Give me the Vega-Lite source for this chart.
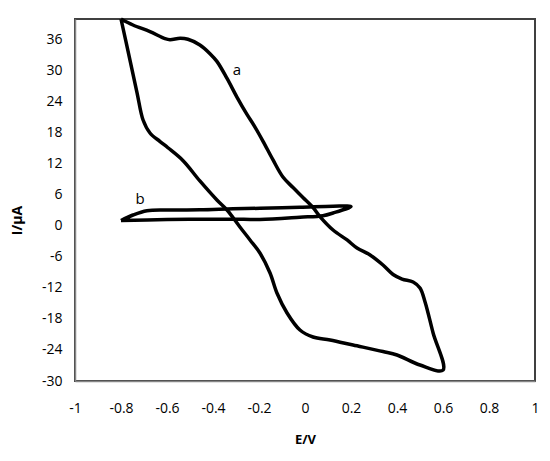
{
  "$schema": "https://vega.github.io/schema/vega-lite/v6.json",
  "width": 460,
  "height": 362,
  "autosize": {"type": "none"},
  "padding": {"left": 75, "top": 19, "right": 15, "bottom": 80},
  "background": "white",
  "config": {
    "font": "Open Sans",
    "view": {"stroke": "#404040", "strokeWidth": 2}
  },
  "datasets": {
    "curves": [
      {"s": "a", "i": 0, "E": -0.8, "I": 40.0},
      {"s": "a", "i": 1, "E": -0.748, "I": 38.84},
      {"s": "a", "i": 2, "E": -0.674, "I": 37.55},
      {"s": "a", "i": 3, "E": -0.609, "I": 36.2},
      {"s": "a", "i": 4, "E": -0.587, "I": 35.98},
      {"s": "a", "i": 5, "E": -0.543, "I": 36.27},
      {"s": "a", "i": 6, "E": -0.509, "I": 36.08},
      {"s": "a", "i": 7, "E": -0.457, "I": 34.98},
      {"s": "a", "i": 8, "E": -0.413, "I": 33.3},
      {"s": "a", "i": 9, "E": -0.383, "I": 31.8},
      {"s": "a", "i": 10, "E": -0.339, "I": 28.5},
      {"s": "a", "i": 11, "E": -0.296, "I": 24.9},
      {"s": "a", "i": 12, "E": -0.253, "I": 21.6},
      {"s": "a", "i": 13, "E": -0.22, "I": 19.3},
      {"s": "a", "i": 14, "E": -0.183, "I": 16.4},
      {"s": "a", "i": 15, "E": -0.139, "I": 12.74},
      {"s": "a", "i": 16, "E": -0.096, "I": 9.45},
      {"s": "a", "i": 17, "E": -0.052, "I": 7.4},
      {"s": "a", "i": 18, "E": -0.009, "I": 5.5},
      {"s": "a", "i": 19, "E": 0.035, "I": 3.55},
      {"s": "a", "i": 20, "E": 0.065, "I": 1.8},
      {"s": "a", "i": 21, "E": 0.122, "I": -0.8},
      {"s": "a", "i": 22, "E": 0.183, "I": -2.73},
      {"s": "a", "i": 23, "E": 0.226, "I": -4.28},
      {"s": "a", "i": 24, "E": 0.283, "I": -5.63},
      {"s": "a", "i": 25, "E": 0.339, "I": -7.57},
      {"s": "a", "i": 26, "E": 0.383, "I": -9.4},
      {"s": "a", "i": 27, "E": 0.422, "I": -10.28},
      {"s": "a", "i": 28, "E": 0.47, "I": -10.86},
      {"s": "a", "i": 29, "E": 0.5, "I": -12.02},
      {"s": "a", "i": 30, "E": 0.522, "I": -14.72},
      {"s": "a", "i": 31, "E": 0.557, "I": -20.72},
      {"s": "a", "i": 32, "E": 0.6, "I": -27.9},
      {"s": "a", "i": 33, "E": 0.5, "I": -26.91},
      {"s": "a", "i": 34, "E": 0.4, "I": -24.97},
      {"s": "a", "i": 35, "E": 0.339, "I": -24.3},
      {"s": "a", "i": 36, "E": 0.209, "I": -23.04},
      {"s": "a", "i": 37, "E": 0.109, "I": -22.07},
      {"s": "a", "i": 38, "E": 0.035, "I": -21.49},
      {"s": "a", "i": 39, "E": -0.022, "I": -20.14},
      {"s": "a", "i": 40, "E": -0.078, "I": -16.85},
      {"s": "a", "i": 41, "E": -0.122, "I": -12.98},
      {"s": "a", "i": 42, "E": -0.152, "I": -9.11},
      {"s": "a", "i": 43, "E": -0.196, "I": -5.25},
      {"s": "a", "i": 44, "E": -0.239, "I": -2.73},
      {"s": "a", "i": 45, "E": -0.283, "I": -0.22},
      {"s": "a", "i": 46, "E": -0.339, "I": 3.07},
      {"s": "a", "i": 47, "E": -0.383, "I": 5.0},
      {"s": "a", "i": 48, "E": -0.457, "I": 8.68},
      {"s": "a", "i": 49, "E": -0.53, "I": 12.6},
      {"s": "a", "i": 50, "E": -0.596, "I": 15.1},
      {"s": "a", "i": 51, "E": -0.63, "I": 16.3},
      {"s": "a", "i": 52, "E": -0.674, "I": 17.96},
      {"s": "a", "i": 53, "E": -0.704, "I": 20.47},
      {"s": "a", "i": 54, "E": -0.73, "I": 25.69},
      {"s": "a", "i": 55, "E": -0.761, "I": 32.07},
      {"s": "a", "i": 56, "E": -0.8, "I": 40.0},
      {"s": "b", "i": 0, "E": -0.8, "I": 1.04},
      {"s": "b", "i": 1, "E": -0.748, "I": 2.1},
      {"s": "b", "i": 2, "E": -0.687, "I": 2.93},
      {"s": "b", "i": 3, "E": -0.6, "I": 3.07},
      {"s": "b", "i": 4, "E": -0.457, "I": 3.1},
      {"s": "b", "i": 5, "E": -0.313, "I": 3.3},
      {"s": "b", "i": 6, "E": -0.196, "I": 3.4},
      {"s": "b", "i": 7, "E": -0.022, "I": 3.59},
      {"s": "b", "i": 8, "E": 0.122, "I": 3.8},
      {"s": "b", "i": 9, "E": 0.2, "I": 3.75},
      {"s": "b", "i": 10, "E": 0.122, "I": 2.49},
      {"s": "b", "i": 11, "E": 0.078, "I": 1.97},
      {"s": "b", "i": 12, "E": -0.022, "I": 1.66},
      {"s": "b", "i": 13, "E": -0.196, "I": 1.23},
      {"s": "b", "i": 14, "E": -0.313, "I": 1.3},
      {"s": "b", "i": 15, "E": -0.457, "I": 1.27},
      {"s": "b", "i": 16, "E": -0.6, "I": 1.22},
      {"s": "b", "i": 17, "E": -0.8, "I": 1.04}
    ],
    "labels": [
      {"t": "a", "E": -0.296, "I": 30.1},
      {"t": "b", "E": -0.717, "I": 5.2}
    ]
  },
  "encoding": {
    "x": {
      "field": "E", "type": "quantitative",
      "scale": {"domain": [-1, 1], "nice": false, "zero": false},
      "axis": {
        "title": "E/V",
        "values": [-1, -0.8, -0.6, -0.4, -0.2, 0, 0.2, 0.4, 0.6, 0.8, 1],
        "labelExpr": "datum.value + ''",
        "grid": false, "ticks": false,
        "domainColor": "#868686", "domainWidth": 1.5,
        "labelFont": "Open Sans", "labelFontSize": 14, "labelColor": "black",
        "labelPadding": 20, "labelFlush": false, "labelOverlap": false,
        "titleFont": "Open Sans", "titleFontSize": 13, "titleFontWeight": "bold", "titleColor": "black",
        "titlePadding": 18
      }
    },
    "y": {
      "field": "I", "type": "quantitative",
      "scale": {"domain": [-30, 40], "nice": false, "zero": false},
      "axis": {
        "title": "I/μA",
        "values": [-30, -24, -18, -12, -6, 0, 6, 12, 18, 24, 30, 36],
        "labelExpr": "datum.value + ''",
        "grid": false, "ticks": false,
        "domainColor": "#868686", "domainWidth": 1.5,
        "labelFont": "Open Sans", "labelFontSize": 14, "labelColor": "black",
        "labelPadding": 13, "labelFlush": false, "labelOverlap": false,
        "titleFont": "Open Sans", "titleFontSize": 14, "titleFontWeight": "bold", "titleColor": "black",
        "titleAngle": -90, "titleX": -58, "titleY": 201, "titleAlign": "center", "titleBaseline": "middle"
      }
    }
  },
  "layer": [
    {
      "data": {"name": "curves"},
      "mark": {"type": "line", "interpolate": "catmull-rom", "color": "black", "strokeWidth": 3.5, "strokeJoin": "miter", "clip": false},
      "encoding": {
        "detail": {"field": "s", "type": "nominal"},
        "order": {"field": "i", "type": "quantitative"}
      }
    },
    {
      "data": {"name": "labels"},
      "mark": {"type": "text", "font": "Open Sans", "fontSize": 15, "color": "black"},
      "encoding": {
        "text": {"field": "t", "type": "nominal"}
      }
    }
  ]
}
